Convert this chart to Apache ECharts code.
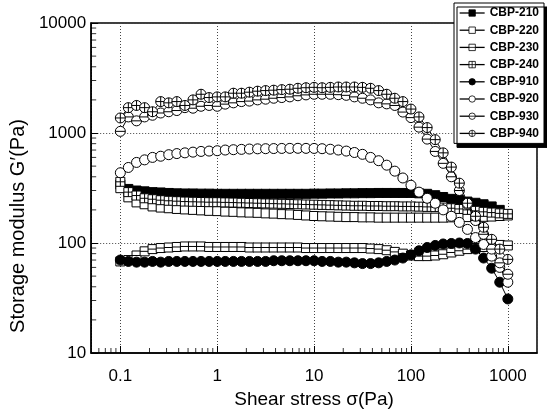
<!DOCTYPE html>
<html><head><meta charset="utf-8">
<script src="https://cdn.jsdelivr.net/npm/echarts@6/dist/echarts.min.js"></script>
<style>html,body{margin:0;padding:0;background:#fff}#c{width:547px;height:414px}</style>
</head><body><div id="c"></div><script>
// Shear stress sweep points (Pa)
const stress = [0.1,0.121,0.147,0.178,0.215,0.261,0.316,0.383,0.464,0.562,0.681,0.825,
  1,1.21,1.47,1.78,2.15,2.61,3.16,3.83,4.64,5.62,6.81,8.25,
  10,12.1,14.7,17.8,21.5,26.1,31.6,38.3,46.4,56.2,68.1,82.5,
  100,121,147,178,215,261,316,383,464,562,681,825,1000];

const names = ['CBP-210','CBP-220','CBP-230','CBP-240','CBP-910','CBP-920','CBP-930','CBP-940'];

const s210 = [340,310,300,295,290,288,285,283,282,282,281,281,280,280,280,280,280,280,280,280,280,280,280,280,281,281,282,282,283,283,284,284,285,285,285,285,285,283,280,272,262,252,245,238,232,225,215,200,null];
const s220 = [315,260,234,225,215,210,207,204,202,200,198,196,195,193,192,190,189,188,186,185,183,182,180,178,176,175,174,173,172,172,171,171,170,170,170,170,170,170,170,170,170,171,171,172,172,173,174,176,178];
const s230 = [68,70,77,84,88,90,91,92,93,93,93,92,92,92,92,92,91,91,91,91,91,91,91,90,90,90,90,90,90,90,90,89,88,86,83,80,77,76,76,77,79,82,85,88,90,92,94,96,95];
const s240 = [360,290,270,255,250,245,242,240,238,237,236,235,235,234,233,232,231,230,229,228,227,226,225,224,223,222,221,220,219,218,218,217,217,216,216,215,215,214,213,212,210,207,204,200,196,192,189,186,184];
const s910 = [70,68,67,67,68,67,68,68,68,68,68,68,68,68,68,68,68,68,68,69,69,69,69,69,69,68,68,67,67,66,65,65,66,68,70,73,78,85,91,95,98,99,100,99,88,73,59,44,31];
const s920 = [435,486,540,570,600,615,635,650,660,670,680,685,690,700,705,710,715,718,720,722,724,725,726,725,724,720,712,700,685,665,640,600,560,510,450,390,335,290,255,230,200,175,154,133,112,97,76,60,44];
const s930 = [1035,1400,1290,1400,1450,1520,1560,1600,1700,1680,1750,1780,1750,1830,1880,1930,1950,2000,2030,2070,2100,2130,2180,2220,2250,2250,2250,2230,2200,2130,2070,2000,1880,1840,1780,1550,1380,1130,880,680,530,400,300,225,160,120,88,66,52];
const s940 = [1370,1700,1780,1700,1560,1930,1880,1930,1780,2000,2250,2100,2130,2130,2300,2300,2350,2400,2430,2450,2480,2500,2550,2580,2600,2580,2600,2620,2620,2620,2600,2550,2430,2250,2070,1930,1650,1400,1120,870,660,490,350,230,175,139,108,88,71];

const xMin = 0.05, xMax = 2000, yMin = 10, yMax = 10000;
const xTickLabels = ['0.1','1','10','100','1000'];
const yTickLabels = ['10','100','1000','10000'];
const xMinor = [0.06,0.07,0.08,0.09,0.2,0.3,0.4,0.5,0.6,0.7,0.8,0.9,2,3,4,5,6,7,8,9,20,30,40,50,60,70,80,90,200,300,400,500,600,700,800,900];
const yMinor = [20,30,40,50,60,70,80,90,200,300,400,500,600,700,800,900,2000,3000,4000,5000,6000,7000,8000,9000];

const FONT = 'Arial, "Liberation Sans", sans-serif';
const P_CIRC_PLUS = 'path://M0,10A10,10,0,1,1,20,10A10,10,0,1,1,0,10ZM0,10L20,10M10,0L10,20';
const P_CIRC_MINUS = 'path://M0,10A10,10,0,1,1,20,10A10,10,0,1,1,0,10ZM0,10L20,10';
const P_SQ_PLUS = 'path://M0,0L20,0L20,20L0,20ZM0,10L20,10M10,0L10,20';
const P_SQ_MINUS = 'path://M0,0L20,0L20,20L0,20ZM0,10L20,10';

const styles = [
  {data:s210, symbol:'rect', size:9, fill:'#000'},
  {data:s220, symbol:'rect', size:9, fill:'#fff'},
  {data:s230, symbol:P_SQ_MINUS, size:9, fill:'#fff'},
  {data:s240, symbol:P_SQ_PLUS, size:9, fill:'#fff'},
  {data:s910, symbol:'circle', size:10, fill:'#000'},
  {data:s920, symbol:'circle', size:10, fill:'#fff'},
  {data:s930, symbol:P_CIRC_MINUS, size:10, fill:'#fff'},
  {data:s940, symbol:P_CIRC_PLUS, size:10, fill:'#fff'}
];

const fmt = v => String(+(+v).toPrecision(6));

const series = styles.map((st, i) => ({
  name: names[i], type: 'line',
  data: stress.map((x, k) => [x, st.data[k]]).filter(p => p[1] != null),
  symbol: st.symbol, symbolSize: st.size, showAllSymbol: true,
  lineStyle: {color:'#000', width:1},
  itemStyle: {color: st.fill, borderColor:'#000', borderWidth:1},
  emphasis: {disabled: true}, z: 2 + i * 0.01
}));

series.push({
  name: 'xminor', type: 'scatter', silent: true, clip: false, z: 5,
  data: xMinor.map(x => [x, yMin]),
  symbol: 'rect', symbolSize: [1, 5], symbolOffset: [0, -2.5],
  itemStyle: {color:'#000'}
});
series.push({
  name: 'yminor', type: 'scatter', silent: true, clip: false, z: 5,
  data: yMinor.map(y => [xMin, y]),
  symbol: 'rect', symbolSize: [5, 1], symbolOffset: [2.5, 0],
  itemStyle: {color:'#000'}
});

const chart = echarts.init(document.getElementById('c'), null, {renderer:'canvas'});
chart.setOption({
  animation: false,
  backgroundColor: '#fff',
  textStyle: {fontFamily: FONT},
  grid: {left: 91, right: 10, top: 23, bottom: 60, show: true, borderColor: '#000', borderWidth: 1.5, backgroundColor:'transparent'},
  legend: {
    data: names, orient: 'vertical', left: 454, top: 3,
    itemWidth: 25, itemHeight: 8, itemGap: 5.2, padding: [4, 5, 4, 5],
    backgroundColor: '#fff', borderColor: '#000', borderWidth: 1,
    shadowColor: '#000', shadowOffsetX: 3, shadowOffsetY: 4, shadowBlur: 0,
    lineStyle: {width: 1.3, color: '#000'},
    itemStyle: {borderWidth: 0.8},
    textStyle: {fontFamily: FONT, fontWeight: 'bold', fontSize: 12, color: '#000'}
  },
  xAxis: {
    type: 'log', logBase: 10, min: xMin, max: xMax,
    name: 'Shear stress σ(Pa)', nameLocation: 'middle', nameGap: 37,
    nameTextStyle: {fontFamily: FONT, fontSize: 19, color: '#000'},
    axisLine: {lineStyle: {color:'#000', width: 1.5}},
    axisTick: {inside: true, length: 7, lineStyle: {color:'#000', width: 1}},
    axisLabel: {fontFamily: FONT, fontSize: 17, color: '#000', margin: 15, showMinLabel: false, showMaxLabel: false,
      formatter: v => { const s = fmt(v); return xTickLabels.includes(s) ? s : ''; }},
    splitLine: {show: true, lineStyle: {color: '#444', type: [1, 2], width: 1}}
  },
  yAxis: {
    type: 'log', logBase: 10, min: yMin, max: yMax,
    name: 'Storage modulus G′(Pa)', nameLocation: 'middle', nameGap: 58,
    nameTextStyle: {fontFamily: FONT, fontSize: 20, color: '#000', padding: [0, 76, 0, 0]},
    axisLine: {lineStyle: {color:'#000', width: 1.5}},
    axisTick: {inside: true, length: 7, lineStyle: {color:'#000', width: 1}},
    axisLabel: {fontFamily: FONT, fontSize: 17, color: '#000', margin: 5,
      formatter: v => { const s = fmt(v); return yTickLabels.includes(s) ? s : ''; }},
    splitLine: {show: true, lineStyle: {color: '#444', type: [1, 2], width: 1}}
  },
  series: series
});
</script></body></html>
